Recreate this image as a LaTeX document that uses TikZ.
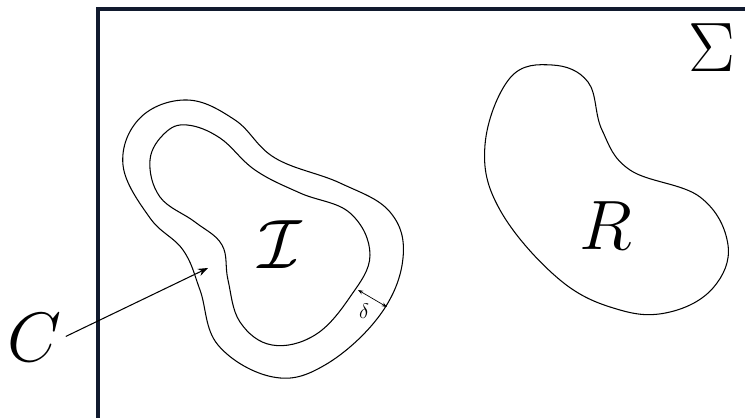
\documentclass[tikz,border=0pt]{standalone}
\usepackage{amsmath}
\usepackage{amssymb}
\usepackage{xcolor}
\usetikzlibrary{arrows.meta, positioning}

\definecolor{framecol}{HTML}{111A2E}

\begin{document}
\begin{tikzpicture}[
  x=0.02cm, y=-0.02cm,
  curve/.style={draw, line width=0.6pt},
  frame/.style={draw=framecol, line width=1.8pt},
  biglabel/.style={inner sep=0pt, font=\Huge, scale=1.6},
  >=Stealth
]
\useasboundingbox (0,0) rectangle (745,418);
\draw[frame] (98,420) -- (98,9) -- (747,9);
% tube around I and the set I
\draw[curve] plot[smooth cycle, tension=0.65] coordinates {(187,100) (235,120) (275,158)
  (340,183) (390,212) (403,258) (380,315) (325,365) (273,377) (218,345) (200,290)
  (183,250) (150,218) (123,165) (140,118)};
\draw[curve] plot[smooth cycle, tension=0.65] coordinates {(187,125) (220,138) (255,170)
  (300,193) (350,213) (370,255) (350,297) (315,335) (272,345) (240,322) (228,280)
  (222,245) (195,222) (160,197) (150,160) (165,133)};
% region R
\draw[curve] plot[smooth cycle, tension=0.65] coordinates {(552,65) (588,82) (602,130)
  (630,170) (700,197) (728,245) (713,288) (670,312) (620,310) (560,280) (500,210)
  (485,145) (510,78)};
\node[biglabel] (sig) at (712,48) {$\Sigma$};
\node[biglabel] (int) at (280,245) {$\mathcal{I}$};
\node[biglabel] (reg) at (606,226) {$R$};
\node[biglabel] (cl) at (35,338) {$C$};
\coordinate (ctip) at (208,268);
\coordinate (din) at (358,290);
\coordinate (dout) at (387,307);
\draw[->, line width=0.6pt, shorten <=2pt] (cl.east) -- (ctip);
\draw[{Stealth[length=3pt]}-{Stealth[length=3pt]}, line width=0.4pt] (din) -- (dout);
\node[font=\fontsize{12}{14}\selectfont, inner sep=0pt] (del) at (364,311) {$\delta$};
\end{tikzpicture}
\end{document}
